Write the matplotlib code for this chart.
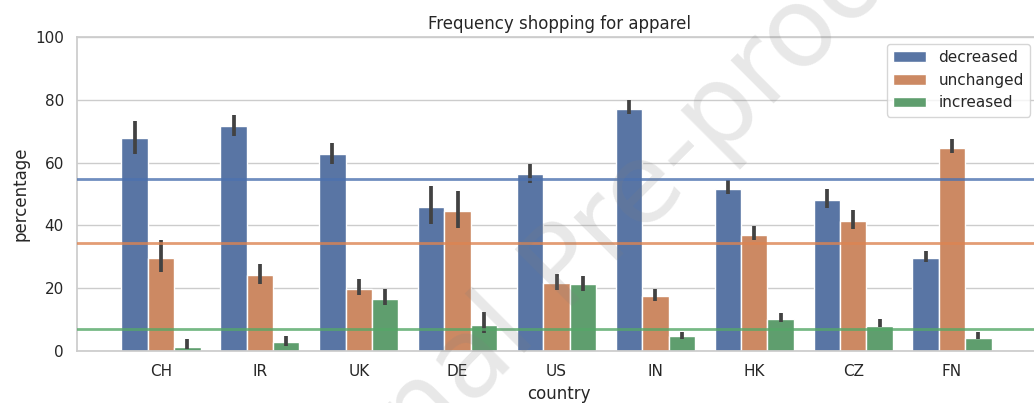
import numpy as np
import matplotlib
matplotlib.use("Agg")
import matplotlib.pyplot as plt
import seaborn as sns

# values
countries = ['CH', 'IR', 'UK', 'DE', 'US', 'IN', 'HK', 'CZ', 'FN']
groups = ['decreased', 'unchanged', 'increased']

decreased = [67.9, 71.6, 62.8, 46.0, 56.3, 77.0, 51.7, 48.0, 29.5]
dec_lo = [62.8, 68.4, 59.6, 40.3, 53.6, 75.4, 49.9, 45.7, 28.3]
dec_hi = [73.4, 75.2, 66.4, 52.6, 59.6, 79.9, 54.5, 51.7, 31.8]

unchanged = [29.5, 24.1, 19.8, 44.7, 21.8, 17.6, 37.0, 41.5, 64.6]
unc_lo = [25.2, 21.3, 17.7, 39.3, 19.4, 15.9, 35.3, 38.8, 63.2]
unc_hi = [35.4, 27.6, 23.0, 51.1, 24.5, 19.8, 39.7, 44.8, 67.4]

increased = [1.4, 2.8, 16.7, 8.4, 21.2, 4.7, 10.2, 7.9, 4.2]
inc_lo = [0.6, 1.7, 14.5, 5.8, 19.1, 3.8, 9.3, 7.5, 3.9]
inc_hi = [3.7, 4.7, 19.8, 12.5, 24.0, 6.1, 12.0, 10.3, 6.1]

# overall means drawn as horizontal lines
means = [54.9, 34.3, 7.0]

sns.set_theme(style='whitegrid')

fig = plt.figure(figsize=(10.34, 4.03), dpi=100)
ax = fig.add_axes([77 / 1034, 52 / 403, 964 / 1034, 314 / 403])

bar_cols = sns.color_palette('deep', 3, desat=0.75)
line_cols = sns.color_palette('deep', 3)

x = np.arange(len(countries))
w = 0.8 / 3
series = [(decreased, dec_lo, dec_hi), (unchanged, unc_lo, unc_hi), (increased, inc_lo, inc_hi)]
for i, (vals, lo, hi) in enumerate(series):
    xs = x + (i - 1) * w
    ax.bar(xs, vals, width=w, color=bar_cols[i], label=groups[i], zorder=2)
    ax.vlines(xs, lo, hi, color='.26', lw=2.7, zorder=3)

for i, m in enumerate(means):
    ax.axhline(m, color=line_cols[i], lw=2, alpha=0.8, zorder=4)

ax.set_xlim(-0.85, 8.9)
ax.set_ylim(0, 100)
ax.set_yticks([0, 20, 40, 60, 80, 100])
ax.set_xticks(x)
ax.set_xticklabels(countries)
ax.xaxis.grid(False)
ax.set_xlabel('country')
ax.set_ylabel('percentage')
ax.set_title('Frequency shopping for apparel')
ax.legend(loc='upper right', handlelength=2.2, borderaxespad=0,
          bbox_to_anchor=(1030 / 1034, 1 - 44 / 403), bbox_transform=fig.transFigure)

# journal watermark
fig.text(575 / 1034, 1 - 265 / 403, 'Journal Pre-proof', rotation=45,
         ha='center', va='center', rotation_mode='anchor',
         fontsize=80, color='0.5', alpha=0.18, zorder=10)

fig.savefig('out.png', dpi=100)
